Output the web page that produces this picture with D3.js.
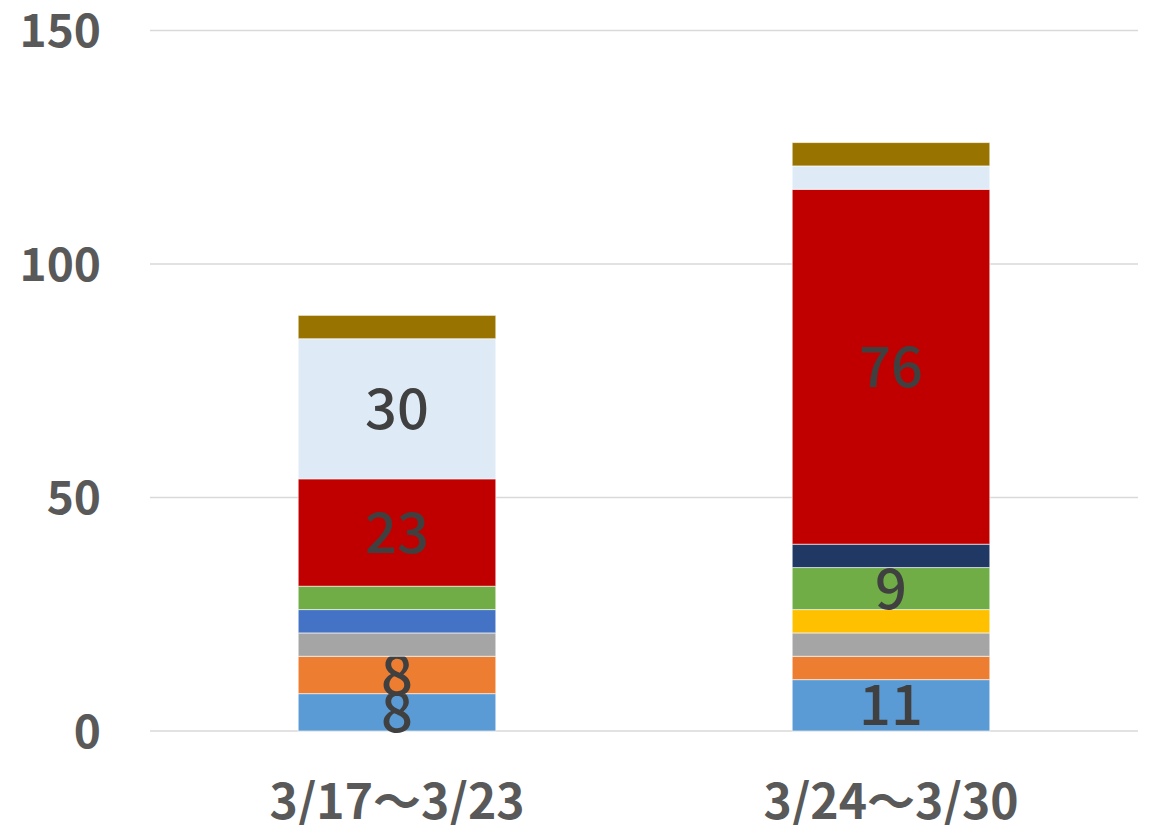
<!DOCTYPE html>
<html>
<head>
<meta charset="utf-8">
<script src="https://cdn.jsdelivr.net/npm/d3@7"></script>
<style>
  body { margin: 0; background: #fff; }
  svg { display: block; }
</style>
</head>
<body>
<script>
// categories on the x axis
const categories = ['3/17～3/23', '3/24～3/30'];

// stacked series, bottom to top
const seriesNames = ['s1', 's2', 's3', 's4', 's5', 's6', 's7', 's8', 's9', 's10'];
const s1 = [8, 11];
const s2 = [8, 5];
const s3 = [5, 5];
const s4 = [0, 5];
const s5 = [5, 0];
const s6 = [5, 9];
const s7 = [0, 5];
const s8 = [23, 76];
const s9 = [30, 5];
const s10 = [5, 5];
const seriesValues = [s1, s2, s3, s4, s5, s6, s7, s8, s9, s10];
const colors = ['#5B9BD5', '#ED7D31', '#A5A5A5', '#FFC000', '#4472C4',
  '#70AD47', '#203864', '#C00000', '#DEEBF7', '#997300'];

const yTicks = [0, 50, 100, 150];

const width = 1156;
const height = 825;
const margin = {top: 30.5, right: 18, bottom: 94, left: 150};
const font = '"Noto Sans CJK JP", "Noto Sans", sans-serif';

// build rows for d3.stack
const rows = categories.map((c, i) => {
  const row = {category: c};
  seriesNames.forEach((s, j) => { row[s] = seriesValues[j][i]; });
  return row;
});
const stacked = d3.stack().keys(seriesNames)(rows);

const x = d3.scaleBand()
  .domain(categories)
  .range([margin.left, width - margin.right])
  .paddingInner(0.6)
  .paddingOuter(0.3);

const y = d3.scaleLinear()
  .domain([0, 150])
  .range([height - margin.bottom, margin.top]);

const svg = d3.select('body').append('svg')
  .attr('width', width)
  .attr('height', height);

// gridlines
svg.append('g')
  .selectAll('line')
  .data(yTicks)
  .enter().append('line')
  .attr('x1', margin.left)
  .attr('x2', width - margin.right)
  .attr('y1', (d) => y(d))
  .attr('y2', (d) => y(d))
  .attr('stroke', '#d9d9d9')
  .attr('stroke-width', 1.5);

// y tick labels
svg.append('g')
  .selectAll('text')
  .data(yTicks)
  .enter().append('text')
  .attr('x', 101)
  .attr('y', (d) => y(d))
  .attr('dy', '0.36em')
  .attr('text-anchor', 'end')
  .attr('font-family', font)
  .attr('font-weight', 'bold')
  .attr('font-size', 46)
  .attr('fill', '#595959')
  .text((d) => d);

// stacked bars
const layer = svg.append('g')
  .selectAll('g')
  .data(stacked)
  .enter().append('g')
  .attr('fill', (d, i) => colors[i]);

layer.selectAll('rect')
  .data((d) => d.filter((p) => p[1] - p[0] > 0))
  .enter().append('rect')
  .attr('x', (d) => x(d.data.category))
  .attr('width', x.bandwidth())
  .attr('y', (d) => y(d[1]))
  .attr('height', (d) => y(d[0]) - y(d[1]))
  .attr('stroke', '#ffffff')
  .attr('stroke-opacity', 0.6)
  .attr('stroke-width', 1);

// data labels (only the larger segments carry one)
layer.selectAll('text')
  .data((d) => d.filter((p) => p[1] - p[0] >= 8))
  .enter().append('text')
  .attr('x', (d) => x(d.data.category) + x.bandwidth() / 2)
  .attr('y', (d) => y((d[0] + d[1]) / 2))
  .attr('dy', '0.36em')
  .attr('text-anchor', 'middle')
  .attr('font-family', font)
  .attr('font-weight', 500)
  .attr('font-size', 56)
  .attr('fill', '#404040')
  .text((d) => d[1] - d[0]);

// x axis labels
svg.append('g')
  .selectAll('text')
  .data(categories)
  .enter().append('text')
  .attr('x', (d) => x(d) + x.bandwidth() / 2)
  .attr('y', 819)
  .attr('text-anchor', 'middle')
  .attr('font-family', font)
  .attr('font-weight', 'bold')
  .attr('font-size', 48)
  .attr('fill', '#595959')
  .text((d) => d);
</script>
</body>
</html>
